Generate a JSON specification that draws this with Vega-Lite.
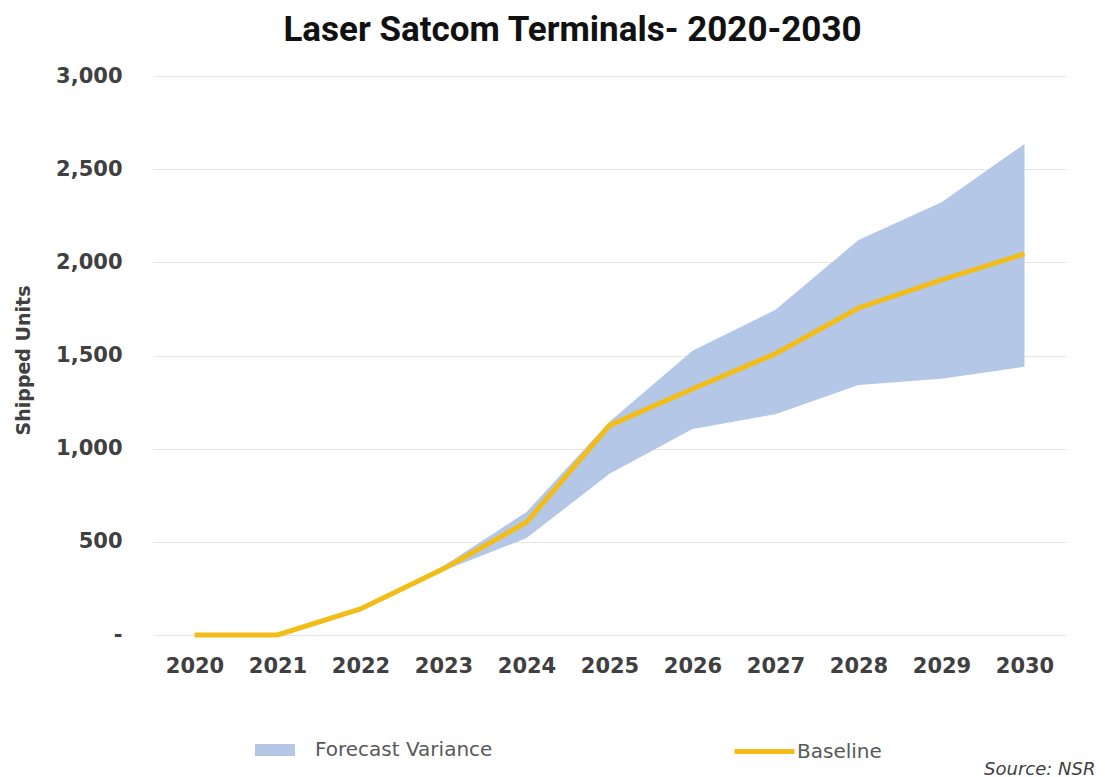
{
  "$schema": "https://vega.github.io/schema/vega-lite/v6.json",
  "width": 913,
  "height": 559,
  "autosize": {"type": "none"},
  "padding": {"left": 153, "top": 76, "right": 39, "bottom": 142},
  "background": "white",
  "title": {
    "text": "Laser Satcom Terminals- 2020-2030",
    "font": "Roboto",
    "fontSize": 35,
    "fontWeight": "bold",
    "color": "#111111",
    "anchor": "middle",
    "frame": "group",
    "dx": -37,
    "offset": 17
  },
  "data": {
    "values": [
      {"year": "2020", "baseline": 0, "lo": 0, "hi": 0},
      {"year": "2021", "baseline": 0, "lo": 0, "hi": 0},
      {"year": "2022", "baseline": 140, "lo": 140, "hi": 140},
      {"year": "2023", "baseline": 355, "lo": 345, "hi": 370},
      {"year": "2024", "baseline": 605, "lo": 520, "hi": 660},
      {"year": "2025", "baseline": 1125, "lo": 865, "hi": 1145},
      {"year": "2026", "baseline": 1320, "lo": 1105, "hi": 1525},
      {"year": "2027", "baseline": 1510, "lo": 1185, "hi": 1745},
      {"year": "2028", "baseline": 1755, "lo": 1342, "hi": 2120},
      {"year": "2029", "baseline": 1906, "lo": 1375, "hi": 2322},
      {"year": "2030", "baseline": 2045, "lo": 1440, "hi": 2635}
    ]
  },
  "encoding": {
    "x": {
      "field": "year",
      "type": "ordinal",
      "scale": {"type": "point", "padding": 0.5},
      "axis": {
        "labelAngle": 0,
        "domain": false,
        "ticks": false,
        "grid": false,
        "labelPadding": 20,
        "labelFont": "DejaVu Sans",
        "labelFontWeight": "bold",
        "labelFontSize": 21,
        "labelColor": "#404040",
        "title": "Source: NSR",
        "titleFont": "DejaVu Sans",
        "titleFontStyle": "italic",
        "titleFontWeight": "normal",
        "titleFontSize": 18,
        "titleColor": "#404040",
        "titleAnchor": "end",
        "titleAlign": "right",
        "titleBaseline": "alphabetic",
        "titleX": 942,
        "titleY": 139
      }
    }
  },
  "layer": [
    {
      "mark": {"type": "area", "opacity": 1},
      "encoding": {
        "y": {
          "field": "lo",
          "type": "quantitative",
          "scale": {"domain": [0, 3000]},
          "axis": {
            "values": [0, 500, 1000, 1500, 2000, 2500, 3000],
            "labelExpr": "datum.value == 0 ? '-' : format(datum.value, ',')",
            "domain": false,
            "ticks": false,
            "grid": true,
            "gridColor": "#E6E6E6",
            "gridWidth": 1,
            "labelPadding": 31,
            "labelFont": "DejaVu Sans",
            "labelFontWeight": "bold",
            "labelFontSize": 21,
            "labelColor": "#404040",
            "title": "Shipped Units",
            "titleFont": "DejaVu Sans",
            "titleFontWeight": "bold",
            "titleFontSize": 19,
            "titleColor": "#404040",
            "titleAngle": -90,
            "titleAlign": "center",
            "titleBaseline": "alphabetic",
            "titleX": -124,
            "titleY": 284
          }
        },
        "y2": {"field": "hi"},
        "fill": {
          "datum": "Forecast Variance",
          "scale": {"range": ["#B4C7E7"]},
          "legend": {
            "orient": "none",
            "legendX": 102,
            "legendY": 654,
            "title": null,
            "symbolType": "M-1,-0.3H1V0.3H-1Z",
            "symbolSize": 1600,
            "symbolStrokeWidth": 0,
            "labelFont": "DejaVu Sans",
            "labelFontSize": 20,
            "labelColor": "#595959",
            "labelOffset": 20,
            "labelLimit": 400
          }
        }
      }
    },
    {
      "mark": {"type": "line", "strokeWidth": 5},
      "encoding": {
        "y": {"field": "baseline", "type": "quantitative"},
        "stroke": {
          "datum": "Baseline",
          "scale": {"range": ["#F2BD18"]},
          "legend": {
            "orient": "none",
            "legendX": 579,
            "legendY": 643,
            "title": null,
            "symbolType": "M-1,0H1",
            "symbolSize": 3600,
            "symbolStrokeWidth": 5,
            "labelFont": "DejaVu Sans",
            "labelFontSize": 20,
            "labelColor": "#595959",
            "labelOffset": 0,
            "labelLimit": 400
          }
        }
      }
    }
  ],
  "config": {
    "view": {"stroke": null}
  }
}
